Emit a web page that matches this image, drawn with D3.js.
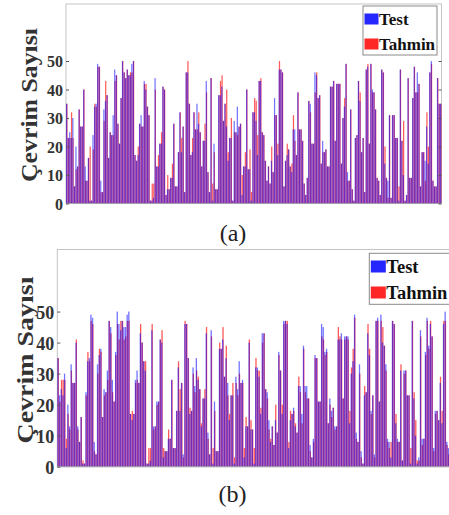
<!DOCTYPE html>
<html><head><meta charset="utf-8">
<script src="https://cdn.jsdelivr.net/npm/d3@7"></script>
<style>html,body{margin:0;padding:0;background:#fff;}svg{display:block;}
text{font-family:"Liberation Serif","Times New Roman",serif;}</style>
</head><body>
<script>
// ---- data ----
const yTicks = [0, 10, 20, 30, 40, 50];
const seriesNames = ["Test", "Tahmin"];
const yLabel = "Çevrim Sayısı";
const captions = ["(a)", "(b)"];

const test = [
35,23,25,23,30,6,20,13,33,27,
27,40,13,8,16,1,1,24,34,35,
49,48,8,4,33,36,38,16,25,24,
31,47,45,28,21,37,50,46,44,47,
45,45,49,50,17,15,17,28,31,27,
43,40,34,31,1,1,2,44,13,13,
21,21,41,40,3,5,5,9,9,28,
6,6,18,32,18,27,4,46,46,35,
17,18,32,26,35,28,25,13,22,22,
43,11,4,44,1,21,5,5,38,38,
41,29,35,27,15,23,23,1,29,25,
34,27,28,3,13,13,40,12,12,1,
32,32,29,17,43,43,25,24,15,8,
13,7,15,11,37,31,17,47,47,46,
6,15,17,19,13,11,26,26,17,39,
26,26,22,7,3,9,36,35,21,21,
46,45,37,38,14,22,18,19,13,13,
41,41,43,22,42,42,42,14,30,34,
49,11,8,33,5,1,23,24,43,36,
18,23,4,47,48,21,49,40,39,33,
9,8,3,47,46,14,9,8,31,2,
31,31,23,23,1,47,22,10,1,3,
44,9,9,37,48,39,46,42,6,18,
18,15,27,14,46,50,8,6,6,44,
35,35];

const predA = [
35,23,23,32,23,6,12,13,33,27,
27,40,8,8,16,20,1,19,35,34,
48,48,4,4,29,43,38,16,25,24,
24,43,45,28,21,37,50,46,44,47,
45,46,46,50,17,15,20,28,27,27,
42,42,34,31,1,7,7,40,13,17,
21,25,41,40,3,10,5,9,14,28,
6,6,18,32,23,27,4,46,50,35,
17,23,32,26,26,32,25,13,22,28,
39,11,4,44,7,18,5,5,38,43,
45,29,35,40,18,23,30,1,25,25,
24,27,28,10,13,18,40,12,19,4,
32,37,36,24,43,44,25,24,15,8,
13,7,20,11,31,31,21,50,47,46,
6,15,21,19,13,14,31,22,17,39,
26,26,22,7,3,9,36,32,21,21,
39,46,37,38,14,18,18,19,13,13,
41,41,43,22,42,42,42,14,30,37,
49,8,8,33,5,1,23,24,43,39,
18,23,4,47,49,21,49,39,39,33,
9,8,3,47,46,20,9,2,31,2,
31,31,23,23,6,47,22,29,1,3,
44,9,9,37,48,39,39,42,6,18,
18,8,32,20,46,49,8,6,6,44,
35,35];

const predB = [
35,21,28,28,28,9,17,12,31,27,
27,41,12,8,16,2,1,23,37,34,
47,46,5,4,30,38,37,16,23,24,
28,47,43,24,21,36,46,41,47,47,
41,42,47,47,17,18,17,27,28,27,
46,40,34,34,1,6,6,46,12,13,
20,21,41,44,6,5,5,12,9,28,
6,6,18,34,25,27,3,47,46,35,
19,18,30,24,31,29,25,14,22,25,
45,9,4,42,6,18,5,5,40,38,
45,29,39,23,17,23,27,3,27,23,
30,27,27,6,16,13,41,15,12,6,
35,31,31,19,40,43,25,22,12,9,
13,7,20,11,36,31,20,46,47,47,
8,18,17,18,14,11,29,24,14,38,
24,22,22,5,3,8,35,35,21,21,
42,41,36,37,14,20,16,19,12,13,
45,42,41,22,41,42,41,18,32,38,
48,9,8,30,3,1,26,24,46,38,
17,23,3,47,47,21,47,45,39,31,
8,6,8,47,46,17,8,8,33,2,
30,31,23,23,6,47,24,15,2,2,
42,7,9,36,47,38,47,42,5,17,
18,15,29,18,47,47,7,4,6,42,
35,35];

// ---- layout ----
const W = 449, H = 515;
const svg = d3.select("body").append("svg").attr("width", W).attr("height", H)
  .style("background", "#fff");

const SERIF = '"Liberation Serif","Times New Roman",serif';
const colors = {Test: "#0000ff", Tahmin: "#ff0000"};

const panels = [
  {pred: predA, left: 66, right: 441.5, top: 4, bottom: 203.5, tickFont: 16, labelFont: 23, labelLen: 154, labelX: 29, labelY: 105,
   legend: {x: 363, y: 6, w: 74, h: 49, sw: 14, sh: 11, font: 17, rows: [13.5, 38.5]}, caption: {x: 233, y: 241, font: 24}},
  {pred: predB, left: 57.3, right: 456, top: 249.5, bottom: 466.7, tickFont: 18, labelFont: 23, labelLen: 167, labelX: 25, labelY: 360,
   legend: {x: 369.3, y: 253.3, w: 90, h: 51, sw: 15, sh: 12, font: 18.5, rows: [260.5, 286.5]}, caption: {x: 232.5, y: 502, font: 24}}
];

panels.forEach((p, pi) => {
  const g = svg.append("g");
  const x = d3.scaleBand().domain(d3.range(test.length)).range([p.left, p.right]).paddingInner(0.12).paddingOuter(0.05);
  const y = d3.scaleLinear().domain([0, 70]).range([p.bottom, p.top]);

  // frame
  g.append("rect").attr("x", p.left).attr("y", p.top)
    .attr("width", p.right - p.left).attr("height", p.bottom - p.top)
    .attr("fill", "none").attr("stroke", "#c4c4c4").attr("stroke-width", 1);

  const bw = x.bandwidth();
  // bars: red (Tahmin) then blue (Test), semi-transparent
  g.append("g").selectAll("rect").data(p.pred).join("rect")
    .attr("x", (d, i) => x(i) + bw * 0.15).attr("width", bw * 0.9)
    .attr("y", d => y(d)).attr("height", d => y(0) - y(d))
    .attr("fill", colors.Tahmin).attr("fill-opacity", 0.65);
  g.append("g").selectAll("rect").data(test).join("rect")
    .attr("x", (d, i) => x(i) - bw * 0.05).attr("width", bw * 0.9)
    .attr("y", d => y(d)).attr("height", d => y(0) - y(d))
    .attr("fill", colors.Test).attr("fill-opacity", 0.55);

  // bottom axis line
  g.append("line").attr("x1", p.left).attr("x2", p.right).attr("y1", p.bottom).attr("y2", p.bottom)
    .attr("stroke", "#a0a0a8").attr("stroke-width", 1);

  // left axis
  const ax = d3.axisLeft(y).tickValues(yTicks).tickSizeInner(-3).tickSizeOuter(0).tickPadding(3);
  const ag = g.append("g").attr("transform", `translate(${p.left},0)`).call(ax);
  ag.attr("font-family", null);
  ag.select(".domain").remove();
  ag.selectAll(".tick line").attr("stroke", "#555");
  ag.selectAll(".tick text").style("font-family", SERIF).style("font-weight", "bold")
    .style("font-size", p.tickFont + "px").attr("fill", "#333").attr("dy", "0.36em");

  // right mirrored ticks
  const rx = d3.axisRight(y).tickValues(yTicks).tickSizeInner(-3).tickSizeOuter(0).tickFormat("");
  const rg = g.append("g").attr("transform", `translate(${p.right},0)`).call(rx);
  rg.select(".domain").remove();
  rg.selectAll(".tick line").attr("stroke", "#555");

  // y label
  g.append("text").attr("transform", `translate(${p.labelX},${p.labelY}) rotate(-90)`)
    .attr("text-anchor", "middle").attr("dominant-baseline", "central")
    .style("font-family", SERIF).style("font-weight", "bold").style("font-size", p.labelFont + "px")
    .attr("fill", "#333").attr("textLength", p.labelLen).attr("lengthAdjust", "spacingAndGlyphs")
    .text(yLabel);

  // legend
  const L = p.legend;
  const lg = g.append("g");
  lg.append("rect").attr("x", L.x).attr("y", L.y).attr("width", L.w).attr("height", L.h)
    .attr("fill", "#fff").attr("stroke", "#8a8a8a").attr("stroke-width", 1);
  seriesNames.forEach((name, i) => {
    lg.append("rect").attr("x", L.x + 1.5).attr("y", L.rows[i]).attr("width", L.sw).attr("height", L.sh)
      .attr("fill", colors[name]).attr("fill-opacity", 0.85);
    lg.append("text").attr("x", L.x + 2 + L.sw).attr("y", L.rows[i] + L.sh + 0.5)
      .style("font-family", SERIF).style("font-weight", "bold").style("font-size", L.font + "px")
      .attr("fill", "#111").text(name);
  });

  // caption
  svg.append("text").attr("x", p.caption.x).attr("y", p.caption.y).attr("text-anchor", "middle")
    .style("font-family", SERIF).style("font-size", p.caption.font + "px").attr("fill", "#222")
    .text(captions[pi]);
});
</script>
</body></html>
